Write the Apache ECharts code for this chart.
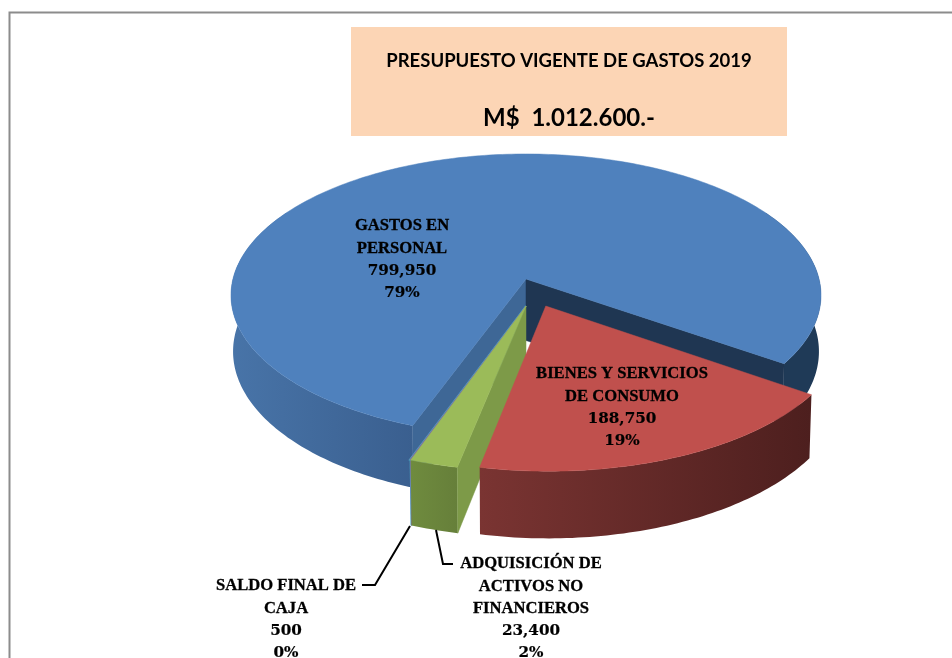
<!DOCTYPE html>
<html>
<head>
<meta charset="utf-8">
<script src="https://cdn.jsdelivr.net/npm/echarts@6/dist/echarts.min.js"></script>
<style>
  html, body { margin: 0; padding: 0; background: #fff; }
  #main { width: 952px; height: 658px; }
</style>
</head>
<body>
<div id="main"></div>
<script>
// data
var categories = [['GASTOS EN', 'PERSONAL'], ['BIENES Y SERVICIOS', 'DE CONSUMO'], ['ADQUISICIÓN DE', 'ACTIVOS NO', 'FINANCIEROS'], ['SALDO FINAL DE', 'CAJA']];
var values = [799950, 188750, 23400, 500];
var titleLines = ['PRESUPUESTO VIGENTE DE GASTOS 2019', 'M$  1.012.600.-'];

// look
var topColors = ['#4f81bd', '#c0504d', '#9bbb59', '#8064a2'];
var cutColors = [['#3e6796', '#1f3652'], [null, null], ['#7d9a48', null], [null, null]];
var drawOrder = [0, 3, 2, 1];
var explode = [[0, 0], [0.066, 0.19], [0, 0.19], [0, 0.19]];
var depths = [55.5, 58, 57, 57];
var labelPos = [[402, 225], [622, 373], [531, 563], [286, 585]];

// perspective disc
var startAngle = 200.2, cx = 526, cy = 279, a = 293.05, b = 139.4, k = 0.115, shrink = 0.993;
var total = values.reduce(function (s, v) { return s + v; }, 0);

function rad(d) { return d * Math.PI / 180; }
function proj(u, v, off, depth) {
  var uu = u + off[0], vv = v + off[1], w = 1 - k * vv;
  var x = a * uu / w, y = b * vv / w;
  return depth ? [cx + x * shrink, cy + y + depth / w] : [cx + x, cy + y];
}
function rim(deg, off, depth) { return proj(Math.sin(rad(deg)), -Math.cos(rad(deg)), off, depth); }
function poly(points, color, z) {
  return { type: 'polygon', z2: z, shape: { points: points }, style: { fill: color, stroke: color, lineWidth: 0.5 } };
}
function sliceStart(idx) {
  var s = 0;
  for (var i = 0; i < idx; i++) s += values[i];
  return startAngle + s / total * 360;
}
function arcPoints(from, to, off, depth) {
  var pts = [], n = Math.max(1, Math.ceil(Math.abs(to - from)));
  for (var i = 0; i <= n; i++) pts.push(rim(from + (to - from) * i / n, off, depth));
  return pts;
}
// curved side wall, shaded left to right across its width
function wall(from, to, off, depth, leftColor, rightColor, z) {
  var pts = arcPoints(from, to, off).concat(arcPoints(to, from, off, depth));
  var xs = pts.map(function (p) { return p[0]; });
  var fill = new echarts.graphic.LinearGradient(Math.min.apply(null, xs), 0, Math.max.apply(null, xs), 0, [
    { offset: 0, color: leftColor }, { offset: 1, color: rightColor }
  ], true);
  return { type: 'polygon', z2: z, shape: { points: pts }, style: { fill: fill } };
}

function renderSlice(params, api) {
  var idx = params.dataIndex, val = api.value(0);
  var s = sliceStart(idx), e = s + val / total * 360, off = explode[idx], depth = depths[idx];
  var z = drawOrder[idx] * 10, kids = [];
  var center = proj(0, 0, off), centerLow = proj(0, 0, off, idx === 0 ? depth + 6 : depth);

  if (idx === 0) {
    kids.push(wall(s, 300, off, depth, '#4874a8', '#3a5f8f', z));
    kids.push(wall(420, e, off, depth, '#1f3a57', '#1f3a57', z));
  } else if (idx === 1) {
    kids.push(wall(s, e, off, depth, '#7a3432', '#4d1f1e', z));
  } else if (idx === 2) {
    kids.push(wall(s, e, off, depth, '#6f8b3e', '#667f3a', z));
  } else {
    var edge = [rim(s, off), rim(s, off, depth)];
    kids.push({ type: 'polyline', z2: z, shape: { points: edge }, style: { fill: 'none', stroke: '#4bacc6', lineWidth: 2 } });
    kids.push({ type: 'polyline', z2: z, shape: { points: edge }, style: { fill: 'none', stroke: '#8064a2', lineWidth: 1 } });
  }
  // cut faces
  if (cutColors[idx][0]) kids.push(poly([center, rim(s, off), rim(s, off, depth), centerLow], cutColors[idx][0], z + 1));
  if (cutColors[idx][1]) kids.push(poly([center, rim(e, off), rim(e, off, depth), centerLow], cutColors[idx][1], z + 1));
  // top face
  var topPts = [center].concat(arcPoints(s, e, off));
  if (idx === 3) {
    kids.push({ type: 'polygon', z2: z + 2, shape: { points: topPts }, style: { fill: 'none', stroke: '#4bacc6', lineWidth: 1.6 } });
    kids.push({ type: 'polygon', z2: z + 3, shape: { points: topPts }, style: { fill: topColors[idx], stroke: topColors[idx], lineWidth: 0.7 } });
  } else {
    kids.push(poly(topPts, topColors[idx], z + 2));
  }
  return { type: 'group', children: kids };
}

var LINE_H = 22.3;
var graphics = [
  { type: 'rect', z: 1, shape: { x: 351, y: 27, width: 436, height: 109 }, style: { fill: '#fcd5b5' } },
  { type: 'polyline', z: 1, shape: { points: [[9.5, 658], [9.5, 12.5], [952, 12.5]] }, style: { fill: 'none', stroke: '#8c8c8c', lineWidth: 2 } },
  { type: 'text', z: 5, style: { x: 569, y: 61, text: titleLines[0], align: 'center', verticalAlign: 'middle', fill: '#000', font: 'bold 18.5px Lato' } },
  { type: 'text', z: 5, style: { x: 569, y: 118, text: titleLines[1], align: 'center', verticalAlign: 'middle', fill: '#000', font: 'bold 24px Lato' } },
  { type: 'polyline', z: 5, shape: { points: [[410, 526], [375, 585], [362, 585]] }, style: { fill: 'none', stroke: '#000', lineWidth: 2 } },
  { type: 'polyline', z: 5, shape: { points: [[436, 530], [443, 564], [453, 564]] }, style: { fill: 'none', stroke: '#000', lineWidth: 2 } }
];
function pushLabelLine(x, y, line, font, heavy) {
  graphics.push({
    type: 'text', z: 5,
    style: { x: x, y: y, text: line, align: 'center', verticalAlign: 'middle', fill: '#000', stroke: '#000', lineWidth: heavy, font: font }
  });
}
labelPos.forEach(function (p, i) {
  var names = categories[i];
  var nums = [values[i].toLocaleString('en-US'), Math.round(values[i] / total * 100) + '%'];
  names.forEach(function (line, j) {
    pushLabelLine(p[0], p[1] + j * LINE_H + 1, line, 'bold 16.6px "Liberation Serif"', 0.3);
  });
  nums.forEach(function (line, j) {
    pushLabelLine(p[0], p[1] + (names.length + j) * LINE_H + 1, line, 'bold 15.2px "DejaVu Serif"', 0.2);
  });
});

var chart = echarts.init(document.getElementById('main'));
chart.setOption({
  animation: false,
  backgroundColor: '#fff',
  graphic: graphics,
  series: [{
    type: 'custom',
    coordinateSystem: 'none',
    silent: true,
    data: values,
    renderItem: renderSlice
  }]
});
</script>
</body>
</html>
